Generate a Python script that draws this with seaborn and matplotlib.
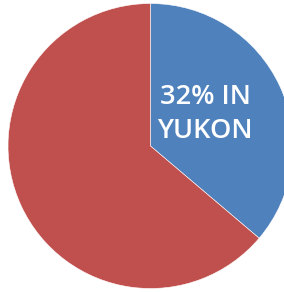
import matplotlib
matplotlib.use("Agg")
import matplotlib.pyplot as plt
import seaborn as sns

sns.set_theme(style="white")
plt.rcParams['font.family'] = ['Open Sans', 'DejaVu Sans']

categories = ["Yukon", "Other"]
shares = [36.2, 63.8]
colors = ["#4F81BD", "#C0504D"]
label_text = "32% IN\nYUKON"

fig = plt.figure(figsize=(2.84, 2.92), dpi=100)
ax = fig.add_axes([0, 0, 1, 1])
ax.pie(shares, colors=colors, startangle=90, counterclock=False, radius=1.0,
       wedgeprops=dict(edgecolor="white", linewidth=0.4))
r = 142.5
cx, cy = 150.5, 146.0
ax.set_xlim(-cx / r, (284 - cx) / r)
ax.set_ylim(-(292 - cy) / r, cy / r)
ax.set_aspect('auto')
ax.axis('off')
ax.text((205 - cx) / r, (cy - 114) / r, label_text, color="white",
        fontsize=19.5, fontweight="semibold", ha="center", va="center",
        linespacing=1.3)
fig.savefig("out.png", dpi=100)
